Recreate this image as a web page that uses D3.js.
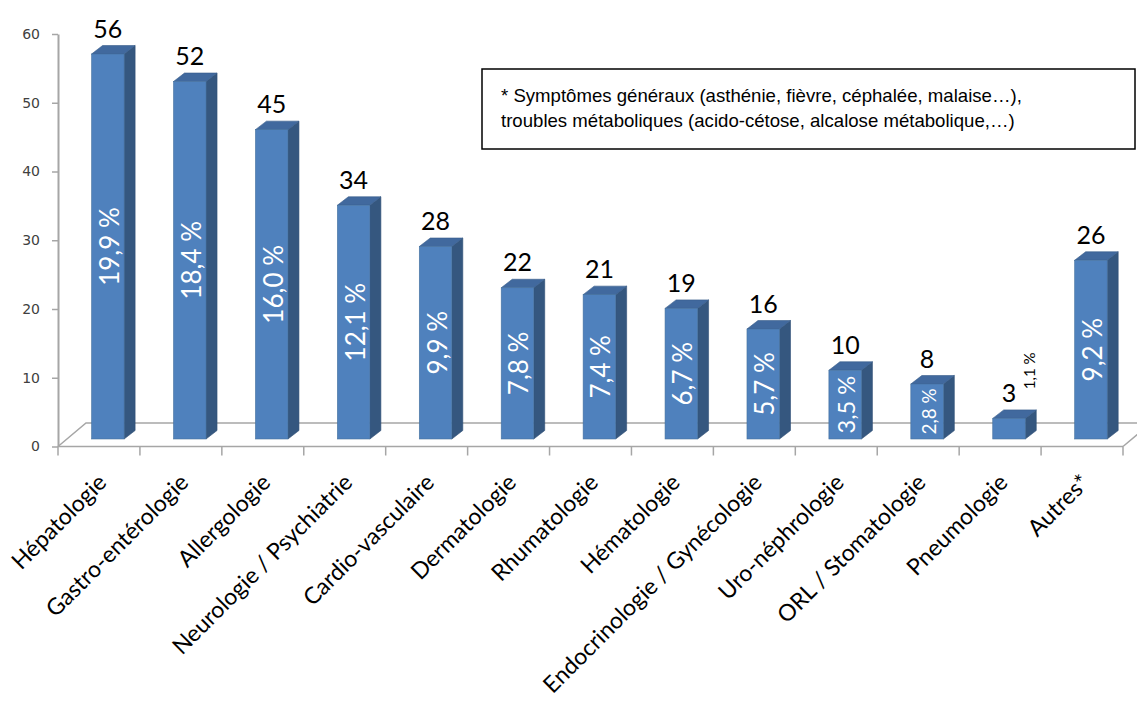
<!DOCTYPE html>
<html lang="fr">
<head>
<meta charset="utf-8">
<script src="https://cdn.jsdelivr.net/npm/d3@7"></script>
<style>
  html, body { margin: 0; padding: 0; background: #fff; }
  svg { display: block; }
</style>
</head>
<body>
<svg id="chart" width="1137" height="702"></svg>
<script>
// Specialities and number of cases
const categories = [
  "Hépatologie", "Gastro-entérologie", "Allergologie", "Neurologie / Psychiatrie",
  "Cardio-vasculaire", "Dermatologie", "Rhumatologie", "Hématologie",
  "Endocrinologie / Gynécologie", "Uro-néphrologie", "ORL / Stomatologie",
  "Pneumologie", "Autres*"
];
const counts = [56, 52, 45, 34, 28, 22, 21, 19, 16, 10, 8, 3, 26];
const shares = ["19,9 %", "18,4 %", "16,0 %", "12,1 %", "9,9 %", "7,8 %", "7,4 %",
                "6,7 %", "5,7 %", "3,5 %", "2,8 %", "1,1 %", "9,2 %"];
const yTicks = [0, 10, 20, 30, 40, 50, 60];
const noteLines = [
  "* Symptômes généraux (asthénie, fièvre, céphalée, malaise…),",
  "troubles métaboliques (acido-cétose, alcalose métabolique,…)"
];

const svg = d3.select("#chart");
const plotLeft = 58, plotRight = 1123, plotTop = 34, plotBase = 446.5;

const x = d3.scaleBand().domain(categories).range([plotLeft, plotRight]).padding(0);
const y = d3.scaleLinear().domain([0, 60]).range([plotBase, plotTop]);

// pseudo-3D geometry
const floorDx = 28, floorDy = -23.5;   // depth of the floor
const barShiftY = -7.5;                 // bars stand mid-depth on the floor
const capDx = 11, capDy = -8.5;         // visible depth of each bar
const bw = x.bandwidth();
const barW = bw * 0.397;
const barOff = bw * 0.41;

const colFront = "#4f81bd", colTop = "#41699e", colSide = "#35577f";
const axisCol = "#a6a6a6";
const labelFont = "Lato, 'Open Sans', sans-serif";

// floor
svg.append("path")
  .attr("fill", "none").attr("stroke", axisCol).attr("stroke-width", 1.5)
  .attr("d", `M${plotLeft},${plotBase} L${plotLeft + floorDx},${plotBase + floorDy} L${plotRight + floorDx},${plotBase + floorDy} L${plotRight},${plotBase}`);

// Y axis
const yAxis = svg.append("g")
  .attr("transform", `translate(${plotLeft},0)`)
  .call(d3.axisLeft(y).tickValues(yTicks).tickSize(6).tickSizeOuter(0).tickPadding(12));
yAxis.select(".domain").attr("stroke", axisCol).attr("stroke-width", 2);
yAxis.selectAll(".tick line").attr("stroke", axisCol).attr("stroke-width", 1.5);
yAxis.selectAll(".tick text")
  .attr("font-family", "'DejaVu Sans', sans-serif")
  .attr("font-size", 14)
  .attr("fill", "#404040");

// X axis baseline with ticks at band boundaries
const xAxis = svg.append("g").attr("stroke", axisCol).attr("stroke-width", 1.5);
xAxis.append("line").attr("x1", plotLeft).attr("x2", plotRight).attr("y1", plotBase).attr("y2", plotBase);
const bounds = categories.map(c => x(c)).concat([plotRight]);
xAxis.selectAll("line.tk").data(bounds).join("line").attr("class", "tk")
  .attr("x1", d => d).attr("x2", d => d).attr("y1", plotBase).attr("y2", plotBase + 9);

// bars
const data = categories.map((c, i) => ({ c, v: counts[i], s: shares[i] }));
const bars = svg.append("g").selectAll("g").data(data).join("g");

bars.each(function (d) {
  const g = d3.select(this);
  const x0 = x(d.c) + barOff, x1 = x0 + barW;
  const yb = y(0) + barShiftY, yt = y(d.v) + barShiftY;
  // side face
  g.append("path")
    .attr("d", `M${x1},${yb} L${x1 + capDx},${yb + capDy} L${x1 + capDx},${yt + capDy} L${x1},${yt} Z`)
    .attr("fill", colSide).attr("stroke", "#2f4f75").attr("stroke-width", 0.6);
  // top face
  g.append("path")
    .attr("d", `M${x0},${yt} L${x0 + capDx},${yt + capDy} L${x1 + capDx},${yt + capDy} L${x1},${yt} Z`)
    .attr("fill", colTop).attr("stroke", "#375c89").attr("stroke-width", 0.6);
  // front face
  g.append("rect")
    .attr("x", x0).attr("y", yt).attr("width", barW).attr("height", yb - yt)
    .attr("fill", colFront).attr("stroke", "#46729f").attr("stroke-width", 0.6);

  // count label
  g.append("text")
    .attr("x", x0 + barW / 2).attr("y", y(d.v) - 24)
    .attr("text-anchor", "middle")
    .attr("font-family", labelFont)
    .attr("font-size", 25)
    .attr("fill", "#000")
    .text(d.v);

  // share label, rotated, inside the bar when it fits
  const h = yb - yt;
  const cx = x0 + barW / 2;
  const t = g.append("text")
    .attr("font-family", labelFont)
    .attr("font-size", 26)
    .attr("text-anchor", "middle")
    .attr("dominant-baseline", "central")
    .text(d.s);
  const len = t.node().getComputedTextLength();
  const fs = Math.min(26, 26 * (h * 0.84) / len);
  if (fs >= 14) {
    t.attr("font-size", fs).attr("fill", "#fff")
      .attr("transform", `translate(${cx + 1},${(yb + yt) / 2}) rotate(-90)`);
  } else {
    t.attr("font-size", 15).attr("fill", "#000")
      .attr("transform", `translate(${cx + 20},${y(d.v) - 55}) rotate(-90)`);
  }
});

// category labels
svg.append("g").selectAll("text").data(categories).join("text")
  .attr("transform", c => `translate(${x(c) + bw / 2 + 9},484) rotate(-45)`)
  .attr("text-anchor", "end")
  .attr("font-family", labelFont)
  .attr("font-size", 23)
  .attr("fill", "#000")
  .text(c => c);

// footnote box
const note = svg.append("g");
note.append("rect")
  .attr("x", 482).attr("y", 69).attr("width", 653).attr("height", 80)
  .attr("fill", "#fff").attr("stroke", "#000").attr("stroke-width", 1.5);
note.selectAll("text").data(noteLines).join("text")
  .attr("x", 501).attr("y", (d, i) => 102 + i * 25)
  .attr("font-family", "'Liberation Sans', Arial, sans-serif")
  .attr("font-size", 18.6)
  .attr("fill", "#000")
  .text(d => d);
</script>
</body>
</html>
